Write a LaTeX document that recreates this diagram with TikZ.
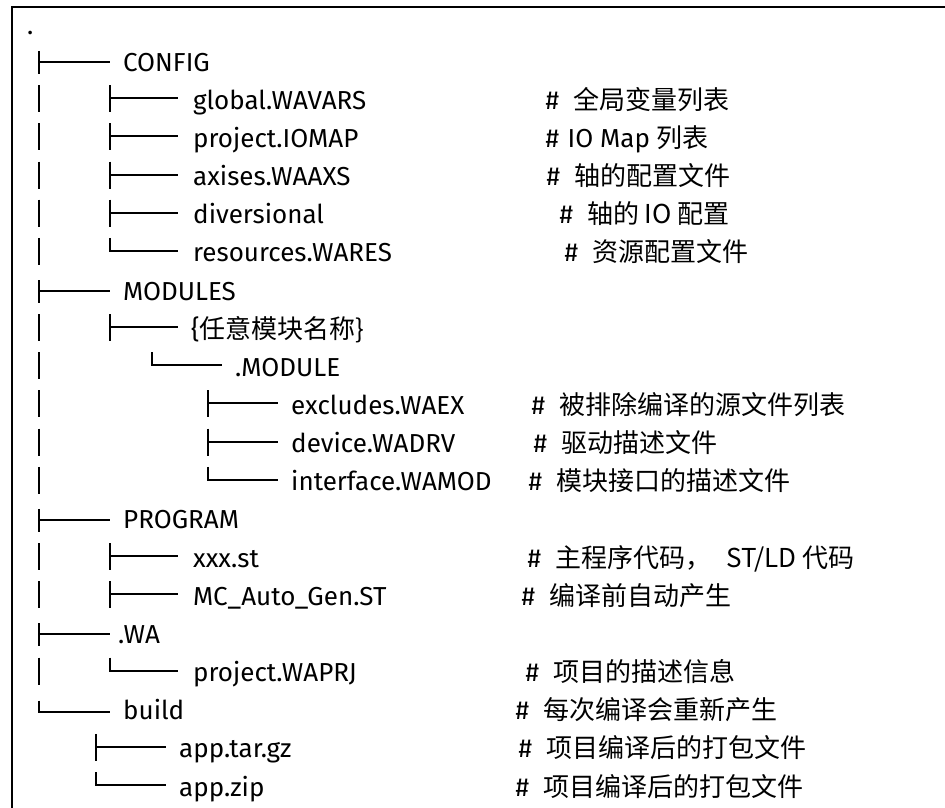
\documentclass[tikz,border=0pt]{standalone}
\usepackage{fontspec}
\setmainfont{Fira Sans}
\newfontfamily\cjk{Noto Sans CJK SC}
\newcommand\hs{\hspace{14pt}}
\newcommand\trvbar[2]{\draw[tree] (#1,#2-15) -- (#1,#2+12);}
\newcommand\trtee[3]{\draw[tree] (#1,#2-15) -- (#1,#2+12) (#1,#2-2) -- (#3,#2-2);}
\newcommand\trell[3]{\draw[tree] (#1,#2-15) -- (#1,#2-2) -- (#3,#2-2);}
\newcommand\trteetop[3]{\draw[tree] (#1,#2-11) -- (#1,#2+12) (#1,#2) -- (#3,#2);}
\newcommand\trelltop[3]{\draw[tree] (#1,#2-10) -- (#1,#2+1) -- (#3,#2+1);}
\begin{document}
\begin{tikzpicture}[x=1pt,y=-1pt,
  tree/.style={line width=2pt},
  frame/.style={line width=2pt},
  fname/.style={anchor=base west, inner sep=0pt, font=\fontsize{26}{30}\selectfont},
  cmt/.style={anchor=base west, inner sep=0pt, font=\fontsize{26}{30}\selectfont}]
\useasboundingbox (0,0) rectangle (945,808);
\draw[frame] (946,7) -- (12,7) -- (12,809);
% root
\node[fname] (root) at (27,35) {.};
% row 0 CONFIG
\trteetop{39}{62}{110}
\node[fname] (config) at (123,71) {CONFIG};
% row 1
\trvbar{39}{100.2}\trtee{110}{100.2}{178}
\node[fname] (global) at (193,109.2) {global.WAVARS};
\node[cmt] (cglobal) at (545.5,109.2) {\#\hs\cjk{全局变量列表}};
% row 2
\trvbar{39}{138.3}\trtee{110}{138.3}{178}
\node[fname] (iomap) at (193,147.3) {project.IOMAP};
\node[cmt] (ciomap) at (545.5,147.3) {\#\hspace{8.5pt}IO Map \cjk{列表}};
% row 3
\trvbar{39}{176.5}\trtee{110}{176.5}{178}
\node[fname] (axises) at (193,185.5) {axises.WAAXS};
\node[cmt] (caxises) at (546.5,185.5) {\#\hs\cjk{轴的配置文件}};
% row 4
\trvbar{39}{214.6}\trtee{110}{214.6}{178}
\node[fname] (divers) at (193,223.6) {diversional};
\node[cmt] (cdivers) at (559.5,223.6) {\#\hs\cjk{轴的} IO \cjk{配置}};
% row 5
\trvbar{39}{252.8}\trell{110}{252.8}{178}
\node[fname] (res) at (193,261.8) {resources.WARES};
\node[cmt] (cres) at (564.5,261.8) {\#\hs\cjk{资源配置文件}};
% row 6 MODULES
\trteetop{39}{291}{110}
\node[fname] (modules) at (123,300) {MODULES};
% row 7
\trvbar{39}{329.1}\trtee{110}{329.1}{178}
\node[fname] (anymod) at (191,338.1) {\{\cjk{任意模块名称}\}};
% row 8
\trvbar{39}{367.3}\trell{152}{367.3}{222}
\node[fname] (dotmod) at (235,376.3) {.MODULE};
% row 9
\trvbar{39}{405.4}\trtee{208}{405.4}{278}
\node[fname] (excl) at (291,414.4) {excludes.WAEX};
\node[cmt] (cexcl) at (531.5,414.4) {\#\hs\cjk{被排除编译的源文件列表}};
% row 10
\trvbar{39}{443.6}\trtee{208}{443.6}{278}
\node[fname] (device) at (291,452.6) {device.WADRV};
\node[cmt] (cdevice) at (533.5,452.6) {\#\hs\cjk{驱动描述文件}};
% row 11
\trvbar{39}{481.8}\trell{208}{481.8}{278}
\node[fname] (iface) at (291,490.8) {interface.WAMOD};
\node[cmt] (ciface) at (528.5,490.8) {\#\hs\cjk{模块接口的描述文件}};
% row 12 PROGRAM
\trteetop{39}{519.9}{110}
\node[fname] (program) at (123,528.9) {PROGRAM};
% row 13
\trvbar{39}{558.1}\trtee{110}{558.1}{178}
\node[fname] (xxx) at (193,567.1) {xxx.st};
\node[cmt] (cxxx) at (527.5,567.1) {\#\hs\cjk{主程序代码，}\hspace{15pt}ST/LD \cjk{代码}};
% row 14
\trvbar{39}{596.2}\trtee{110}{596.2}{178}
\node[fname] (mcauto) at (193,605.2) {MC\_Auto\_Gen.ST};
\node[cmt] (cmcauto) at (521.5,605.2) {\#\hs\cjk{编译前自动产生}};
% row 15 .WA
\trteetop{39}{634.4}{110}
\node[fname] (wa) at (118,643.4) {.WA};
% row 16
\trvbar{39}{672.6}\trell{110}{672.6}{178}
\node[fname] (waprj) at (193,681.6) {project.WAPRJ};
\node[cmt] (cwaprj) at (525.5,681.6) {\#\hs\cjk{项目的描述信息}};
% row 17 build
\trelltop{39}{710.7}{110}
\node[fname] (build) at (123,719.7) {build};
\node[cmt] (cbuild) at (515.5,719.7) {\#\hs\cjk{每次编译会重新产生}};
% row 18
\trtee{96}{748.9}{166}
\node[fname] (tar) at (179,757.9) {app.tar.gz};
\node[cmt] (ctar) at (518.5,757.9) {\#\hs\cjk{项目编译后的打包文件}};
% row 19
\trell{96}{787}{166}
\node[fname] (zip) at (179,796) {app.zip};
\node[cmt] (czip) at (515.5,796) {\#\hs\cjk{项目编译后的打包文件}};
\end{tikzpicture}
\end{document}
